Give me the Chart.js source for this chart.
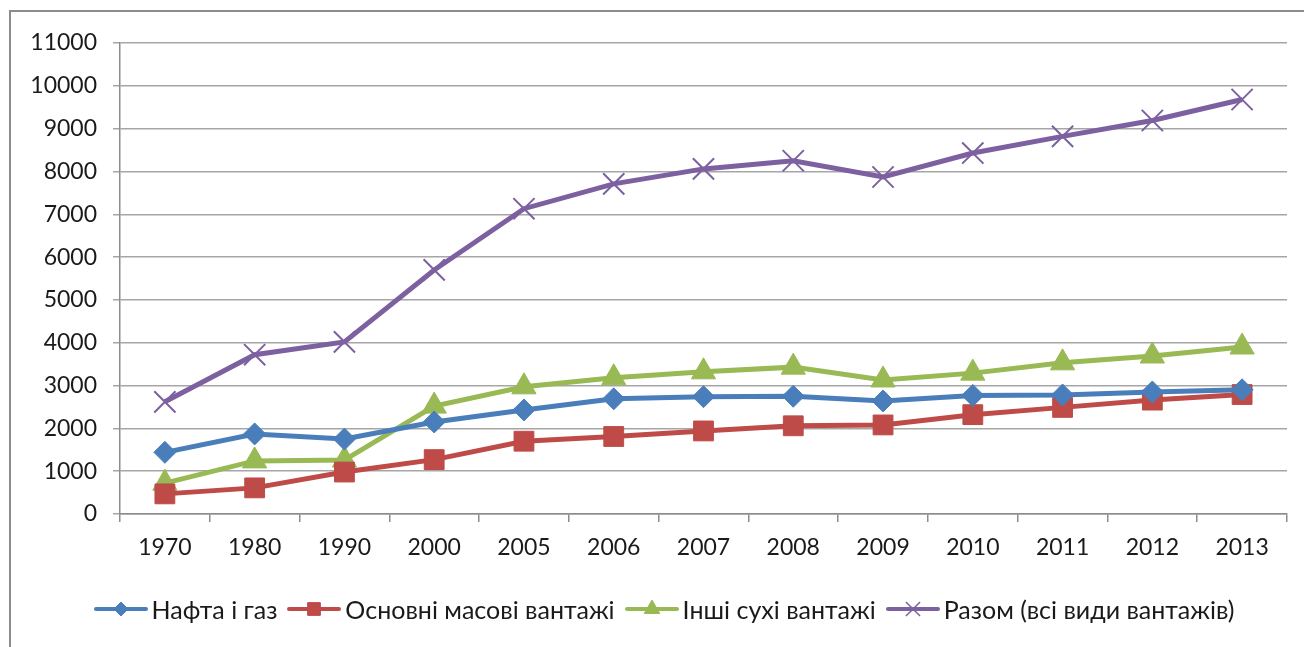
<!DOCTYPE html>
<html>
<head>
<meta charset="utf-8">
<script src="https://cdn.jsdelivr.net/npm/chart.js@4"></script>
<style>
  html, body { margin: 0; padding: 0; background: #fff; }
  body { width: 1304px; height: 647px; position: relative; overflow: hidden; font-family: Lato, "Open Sans", sans-serif; }
  #frame { position: absolute; left: 9px; top: 10px; width: 1400px; height: 700px; border-left: 2px solid #8c8c8c; border-top: 2px solid #8c8c8c; }
  #wrap { position: absolute; left: 0; top: 0; width: 1304px; height: 647px; }
  #legend { position: absolute; left: 0; top: 594px; width: 1304px; display: flex; justify-content: center; padding-left: 34px; box-sizing: border-box; font-size: 25px; color: #1a1a1a; }
  .item { display: flex; align-items: center; margin-right: 10px; }
  .sw { position: relative; width: 54px; height: 28px; margin-right: 4px; }
  .sw .ln { position: absolute; left: 0; right: 0; top: 12px; height: 4px; border-radius: 2px; }
  .sw canvas { position: absolute; left: 17px; top: 4px; }
</style>
</head>
<body>
<div id="frame"></div>
<div id="wrap"><canvas id="chart"></canvas></div>
<div id="legend"></div>
<script>
// Роки
const years = ['1970', '1980', '1990', '2000', '2005', '2006', '2007', '2008', '2009', '2010', '2011', '2012', '2013'];

// Значення рядів
const naftaGaz = [1440, 1870, 1750, 2150, 2430, 2690, 2740, 2750, 2640, 2770, 2780, 2850, 2900];
const osnovni = [470, 610, 980, 1270, 1700, 1810, 1940, 2060, 2080, 2320, 2490, 2660, 2790];
const inshi = [720, 1240, 1260, 2520, 2970, 3180, 3320, 3430, 3130, 3290, 3530, 3690, 3900];
const razom = [2620, 3720, 4020, 5700, 7130, 7710, 8060, 8250, 7870, 8430, 8820, 9190, 9680];

const seriesNames = ['Нафта і газ', 'Основні масові вантажі', 'Інші сухі вантажі', 'Разом (всі види вантажів)'];
const yTicks = [0, 1000, 2000, 3000, 4000, 5000, 6000, 7000, 8000, 9000, 10000, 11000];

const colors = ['#4a7ebb', '#be4b48', '#98b954', '#7d60a0'];
const styles = ['rectRot', 'rect', 'triangle', 'crossRot'];
const radii = [11, 14, 14, 15];
const legendRadii = [7, 9, 9, 10];

function makeDataset(label, data, i) {
  return {
    label: label,
    data: data,
    borderColor: colors[i],
    backgroundColor: colors[i],
    borderWidth: 5,
    pointStyle: styles[i],
    pointRadius: radii[i],
    pointBorderWidth: i === 3 ? 2 : 1,
    pointBackgroundColor: colors[i],
    pointBorderColor: colors[i],
    tension: 0
  };
}

const fontSpec = { family: 'Lato', size: 23 };

new Chart(document.getElementById('chart'), {
  type: 'line',
  data: {
    labels: years,
    datasets: [
      makeDataset(seriesNames[0], naftaGaz, 0),
      makeDataset(seriesNames[1], osnovni, 1),
      makeDataset(seriesNames[2], inshi, 2),
      makeDataset(seriesNames[3], razom, 3)
    ]
  },
  options: {
    responsive: true,
    maintainAspectRatio: false,
    animation: false,
    events: [],
    layout: { padding: { left: 20, right: 17, top: 43, bottom: 73 } },
    plugins: { legend: { display: false }, tooltip: { enabled: false } },
    scales: {
      x: {
        offset: true,
        grid: { offset: true, drawOnChartArea: false, drawTicks: true, tickLength: 8, color: '#8c8c8c', lineWidth: 1.5 },
        border: { display: true, color: '#8c8c8c', width: 1.5 },
        ticks: { font: fontSpec, color: '#1a1a1a', padding: 12, maxRotation: 0, autoSkip: false },
        afterFit: function(scale) { scale.height = 60; }
      },
      y: {
        min: 0,
        max: 11000,
        afterBuildTicks: function(scale) { scale.ticks = yTicks.map(v => ({ value: v })); },
        grid: { color: '#a6a6a6', lineWidth: 1.5, drawTicks: true, tickLength: 7 },
        border: { display: true, color: '#8c8c8c', width: 1.5 },
        ticks: { font: fontSpec, color: '#1a1a1a', padding: 16, callback: v => String(v) },
        afterFit: function(scale) { scale.width = 100; }
      }
    }
  }
});

// Легенда
const legend = document.getElementById('legend');
seriesNames.forEach(function(name, i) {
  const item = document.createElement('div');
  item.className = 'item';
  const sw = document.createElement('div');
  sw.className = 'sw';
  const ln = document.createElement('div');
  ln.className = 'ln';
  ln.style.background = colors[i];
  sw.appendChild(ln);
  const c = document.createElement('canvas');
  c.width = 20; c.height = 20;
  const ctx = c.getContext('2d');
  ctx.fillStyle = colors[i];
  ctx.strokeStyle = colors[i];
  ctx.lineWidth = i === 3 ? 1.5 : 1;
  Chart.helpers.drawPoint(ctx, { pointStyle: styles[i], radius: legendRadii[i], rotation: 0, borderWidth: ctx.lineWidth }, 10, 10);
  sw.appendChild(c);
  item.appendChild(sw);
  const t = document.createElement('span');
  t.textContent = name;
  item.appendChild(t);
  legend.appendChild(item);
});
</script>
</body>
</html>
